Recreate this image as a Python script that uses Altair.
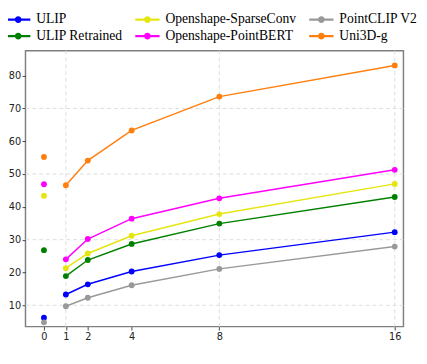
import altair as alt
import pandas as pd

shots = [0, 1, 2, 4, 8, 16]
ulip = [6.2, 13.3, 16.4, 20.3, 25.3, 32.3]
ulip_retrained = [26.8, 18.9, 23.8, 28.7, 34.9, 43.0]
os_sparse = [43.4, 21.3, 25.8, 31.2, 37.8, 47.0]
os_bert = [46.9, 24.0, 30.2, 36.4, 42.6, 51.3]
pointclip = [4.8, 9.7, 12.3, 16.1, 21.1, 27.9]
uni3d = [55.2, 46.6, 54.1, 63.3, 73.6, 83.1]

series_names = ["ULIP", "ULIP Retrained", "Openshape-SparseConv",
                "Openshape-PointBERT", "PointCLIP V2", "Uni3D-g"]
series_values = [ulip, ulip_retrained, os_sparse, os_bert, pointclip, uni3d]
series_colors = ["#0000ff", "#008000", "#e5e50f", "#ff00ff", "#999999", "#ff7f0e"]

# legend order laid out row by row (3 columns)
legend_order = ["ULIP", "Openshape-SparseConv", "PointCLIP V2",
                "ULIP Retrained", "Openshape-PointBERT", "Uni3D-g"]
legend_colors = [series_colors[series_names.index(n)] for n in legend_order]

x_ticks = [0, 1, 2, 4, 8, 16]
y_ticks = [10, 20, 30, 40, 50, 60, 70, 80]
x_grid = [1, 8, 16]
y_grid = [10, 30, 50, 70]
x_domain = [-0.842, 16.399]
y_domain = [3.5, 87.6]

rows = []
for name, vals in zip(series_names, series_values):
    for s, v in zip(shots, vals):
        rows.append({"shots": s, "acc": v, "model": name})
df = pd.DataFrame(rows)

xscale = alt.Scale(domain=x_domain, nice=False, zero=False)
yscale = alt.Scale(domain=y_domain, nice=False, zero=False)

# line-with-marker legend glyph (unit square scaled by sqrt(size)/2 = 7px)
legend_symbol = ("M-1.786,-0.17L1.786,-0.17L1.786,0.17L-1.786,0.17Z "
                 "M-0.5,0A0.5,0.5 0 1,1 0.5,0A0.5,0.5 0 1,1 -0.5,0Z")

color = alt.Color(
    "model:N",
    scale=alt.Scale(domain=legend_order, range=legend_colors),
    legend=alt.Legend(
        title=None, orient="none", legendX=-14.5, legendY=-39,
        direction="horizontal", columns=3, columnPadding=12, rowPadding=3,
        symbolType=legend_symbol, symbolSize=196, symbolStrokeWidth=0,
        symbolOpacity=1, labelOffset=11.5,
        labelFont="Liberation Serif", labelFontSize=14, labelColor="black",
        labelLimit=300,
    ),
)

axis_common = dict(grid=False, domain=False, tickColor="#444444", tickSize=3.5,
                   tickWidth=1, labelFont="DejaVu Sans", labelFontSize=10,
                   labelColor="#222222", labelPadding=1.5, title=None)

xgrid = alt.Chart(pd.DataFrame({"g": x_grid})).mark_rule(
    color="#dddddd", strokeDash=[4, 3], strokeWidth=1
).encode(x=alt.X("g:Q", scale=xscale, axis=alt.Axis(values=x_ticks, **axis_common)))

ygrid = alt.Chart(pd.DataFrame({"g": y_grid})).mark_rule(
    color="#dddddd", strokeDash=[4, 3], strokeWidth=1
).encode(y=alt.Y("g:Q", scale=yscale, axis=alt.Axis(values=y_ticks, **axis_common)))

lines = alt.Chart(df).transform_filter("datum.shots >= 1").mark_line(
    strokeWidth=1.5
).encode(
    x=alt.X("shots:Q", scale=xscale),
    y=alt.Y("acc:Q", scale=yscale),
    color=color,
    detail="model:N",
)

points = alt.Chart(df).mark_point(filled=True, size=36, opacity=1).encode(
    x=alt.X("shots:Q", scale=xscale),
    y=alt.Y("acc:Q", scale=yscale),
    color=color,
)

chart = alt.layer(xgrid, ygrid, points, lines).properties(
    width=389, height=284,
    padding={"left": 0, "top": 0, "right": 0, "bottom": 0},
).configure_view(stroke="#7f7f7f", strokeWidth=1.5)

chart.save("out.html", embed_options={"renderer": "svg", "actions": False})
